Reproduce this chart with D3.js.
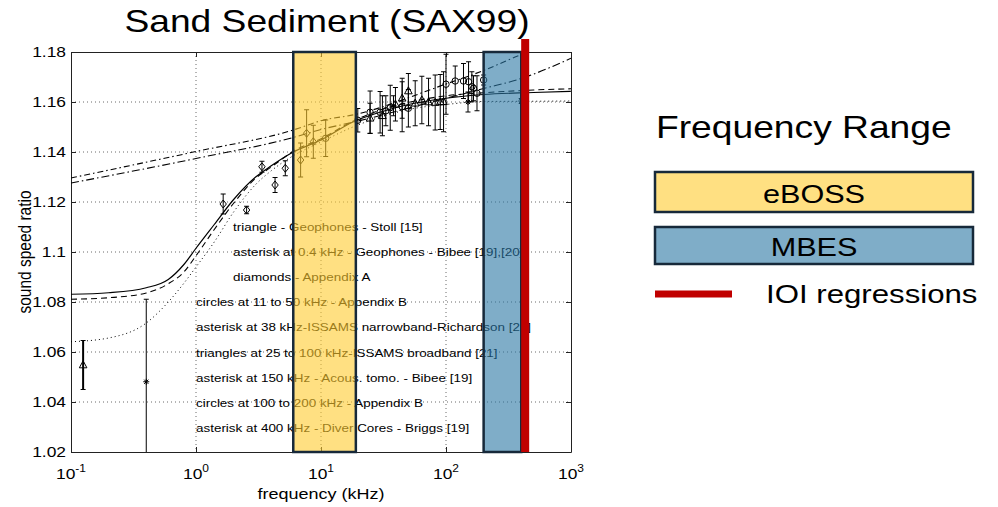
<!DOCTYPE html>
<html>
<head>
<meta charset="utf-8">
<script src="https://cdn.jsdelivr.net/npm/d3@7"></script>
<style>
  body { margin: 0; background: #fff; }
  svg { display: block; }
  text { font-family: "Liberation Sans", Arial, Helvetica, sans-serif; fill: #000; }
</style>
</head>
<body>
<svg id="chart" width="998" height="507"></svg>
<script>
// ---- axis ticks ----
const xTickValues = [0.1, 1, 10, 100, 1000];
const xTickExponents = ["-1", "0", "1", "2", "3"];
const yTickValues = [1.02, 1.04, 1.06, 1.08, 1.10, 1.12, 1.14, 1.16, 1.18];
const yTickLabels = ["1.02", "1.04", "1.06", "1.08", "1.1", "1.12", "1.14", "1.16", "1.18"];

// ---- model curves (frequency in kHz, sound speed ratio) ----
const modelFreq = [0.1, 0.2, 0.4, 0.6, 0.8, 1, 1.4, 2, 3, 4, 6, 10, 18, 30, 50, 100, 200, 500, 1000];
const solidModel  = [1.0831, 1.0837, 1.0857, 1.0890, 1.0950, 1.1015, 1.1110, 1.1210, 1.1300, 1.1345, 1.1400, 1.1448, 1.1520, 1.1560, 1.1590, 1.1615, 1.1630, 1.1638, 1.1643];
const dashedModel = [1.0811, 1.0817, 1.0836, 1.0873, 1.0920, 1.0985, 1.1090, 1.1195, 1.1295, 1.1340, 1.1403, 1.1453, 1.1523, 1.1568, 1.1598, 1.1625, 1.1637, 1.1648, 1.1653];
const dottedModel = [1.0641, 1.0656, 1.0716, 1.0800, 1.0875, 1.0940, 1.1040, 1.1160, 1.1270, 1.1325, 1.1385, 1.1440, 1.1500, 1.1540, 1.1570, 1.1590, 1.1602, 1.1603, 1.1604];

const lineFreq = [0.1, 1, 6, 10, 18.7, 100, 200, 400, 1000];
const upperDashDot = [1.1296, 1.1402, 1.1488, 1.1525, 1.1550, 1.1672, 1.1726, 1.1790, 1.1860];
const lowerDashDot = [1.1276, 1.1374, 1.1458, 1.1490, 1.1521, 1.1615, 1.1654, 1.1694, 1.1775];

// ---- measurements: [frequency kHz, ratio, error] ----
const geophoneTriangle = [[0.125, 1.0548, 0.0098]];
const diamonds = [
  [1.65, 1.1192, 0.0040], [2.54, 1.1168, 0.0015], [3.37, 1.1341, 0.0022],
  [4.29, 1.1268, 0.0030], [5.18, 1.1335, 0.0030], [6.87, 1.1368, 0.0068],
  [7.67, 1.1475, 0.0094], [8.68, 1.1441, 0.0066]
];
const circlesLow = [
  [10.9, 1.1455, 0.0073], [19.7, 1.1527, 0.0047], [24.7, 1.1559, 0.0085],
  [29.7, 1.1559, 0.0083], [33.0, 1.1565, 0.0060], [35.8, 1.1577, 0.0090],
  [44.6, 1.1581, 0.0100], [50.0, 1.1575, 0.0075]
];
const trianglesBroadband = [
  [24.7, 1.1535, 0.0060], [31.0, 1.1545, 0.0080], [39.4, 1.1591, 0.0067],
  [44.6, 1.1615, 0.0080], [50.0, 1.1644, 0.0070], [56.7, 1.1595, 0.0090],
  [64.1, 1.1608, 0.0095], [72.5, 1.1600, 0.0095], [81.9, 1.1598, 0.0110],
  [89.9, 1.1600, 0.0110], [95.6, 1.1601, 0.0120]
];
const circlesHigh = [
  [100, 1.1671, 0.0120], [118.5, 1.1684, 0.0060], [138, 1.1684, 0.0070],
  [151.5, 1.1681, 0.0080], [161, 1.1661, 0.0060], [166, 1.1655, 0.0050],
  [177, 1.1635, 0.0070], [200, 1.1688, 0.0020]
];
const asterisks = [
  [0.4, 1.0481, 0.0330], [38, 1.1585, 0.0040], [150, 1.1600, 0.0040], [400, 1.1604, 0.0010]
];

const sourceNotes = [
  "triangle - Geophones - Stoll [15]",
  "asterisk at 0.4 kHz - Geophones - Bibee [19],[20]",
  "diamonds - Appendix A",
  "circles at 11 to 50 kHz - Appendix B",
  "asterisk at 38 kHz-ISSAMS narrowband-Richardson [21]",
  "triangles at 25 to 100 kHz-ISSAMS broadband [21]",
  "asterisk at 150 kHz - Acous. tomo. - Bibee [19]",
  "circles at 100 to 200 kHz - Appendix B",
  "asterisk at 400 kHz - Diver Cores - Briggs [19]"
];

// ---- frequency ranges ----
const eBossRange = [6, 19];
const mbesRange = [200, 400];
const ioiFreq = 430;
const legendLabels = ["eBOSS", "MBES", "IOI regressions"];
const legendTitle = "Frequency Range";
const chartTitle = "Sand Sediment (SAX99)";

// ---- drawing ----
const SX = 1.2; // horizontal text stretch
const svg = d3.select("#chart");
const L = 71, R = 571, T = 52, B = 452;
const x = d3.scaleLog().domain([0.1, 1000]).range([L, R]);
const y = d3.scaleLinear().domain([1.02, 1.18]).range([B, T]);

function txt(g, px, py, str, size, anchor) {
  return g.append("text")
    .attr("transform", `translate(${px},${py}) scale(${SX},1)`)
    .attr("font-size", size)
    .attr("text-anchor", anchor || "start")
    .text(str);
}

svg.append("defs").append("clipPath").attr("id", "plotClip")
  .append("rect").attr("x", L).attr("y", T).attr("width", R - L).attr("height", B - T);

// title
txt(svg, 327, 32, chartTitle, 31, "middle");

// grid
const grid = svg.append("g").attr("stroke", "#444").attr("stroke-width", 0.8).attr("stroke-dasharray", "1,3");
xTickValues.slice(1, -1).forEach(v => {
  grid.append("line").attr("x1", x(v)).attr("x2", x(v)).attr("y1", T).attr("y2", B);
});
yTickValues.slice(1, -1).forEach(v => {
  grid.append("line").attr("x1", L).attr("x2", R).attr("y1", y(v)).attr("y2", y(v));
});

// axes with inward ticks (left/bottom via d3 axes, right/top mirrored)
const yAxis = d3.axisLeft(y).tickValues(yTickValues).tickSizeInner(-5).tickSizeOuter(0).tickFormat("");
const xAxis = d3.axisBottom(x).tickValues(xTickValues).tickSizeInner(-5).tickSizeOuter(0).tickFormat("");
const yAxisR = d3.axisRight(y).tickValues(yTickValues).tickSizeInner(-5).tickSizeOuter(0).tickFormat("");
const xAxisT = d3.axisTop(x).tickValues(xTickValues).tickSizeInner(-5).tickSizeOuter(0).tickFormat("");
[[yAxis, `translate(${L},0)`], [xAxis, `translate(0,${B})`], [yAxisR, `translate(${R},0)`], [xAxisT, `translate(0,${T})`]]
  .forEach(([ax, tr]) => {
    const g = svg.append("g").attr("transform", tr).call(ax);
    g.selectAll("path,line").attr("stroke", "#222").attr("stroke-width", 1);
  });

// tick labels
const tickG = svg.append("g");
yTickValues.forEach((v, i) => txt(tickG, 66, y(v) + 5, yTickLabels[i], 14.5, "end"));
xTickValues.forEach((v, i) => {
  const t = tickG.append("text")
    .attr("transform", `translate(${x(v)},479) scale(${SX},1)`)
    .attr("font-size", 14.5).attr("text-anchor", "middle");
  t.append("tspan").text("10");
  t.append("tspan").attr("dy", -7).attr("font-size", 10).text(xTickExponents[i]);
});

// axis titles
txt(svg, 321, 499, "frequency (kHz)", 15, "middle");
svg.append("text")
  .attr("transform", `translate(31,${(T + B) / 2}) scale(${SX},1) rotate(-90)`)
  .attr("font-size", 15.5).attr("text-anchor", "middle")
  .text("sound speed ratio");

// model curves
const plotG = svg.append("g").attr("clip-path", "url(#plotClip)");
const line = d3.line().x(d => x(d[0])).y(d => y(d[1])).curve(d3.curveMonotoneX);
function drawCurve(freqs, vals, dash, width) {
  plotG.append("path")
    .datum(freqs.map((f, i) => [f, vals[i]]))
    .attr("d", line).attr("fill", "none").attr("stroke", "#000")
    .attr("stroke-width", width).attr("stroke-dasharray", dash);
}
drawCurve(modelFreq, dottedModel, "1,3", 1);
drawCurve(modelFreq, dashedModel, "6,4", 1.1);
drawCurve(modelFreq, solidModel, null, 1.2);
drawCurve(lineFreq, upperDashDot, "6,3,1.5,3", 1.1);
drawCurve(lineFreq, lowerDashDot, "8,3,1.5,3", 1.1);

// error bars and markers
function errorBars(data, width) {
  data.forEach(([f, v, e]) => {
    const cx = x(f);
    plotG.append("line").attr("x1", cx).attr("x2", cx).attr("y1", y(v - e)).attr("y2", y(v + e))
      .attr("stroke", "#000").attr("stroke-width", width);
    [v - e, v + e].forEach(c => plotG.append("line")
      .attr("x1", cx - 2.5).attr("x2", cx + 2.5).attr("y1", y(c)).attr("y2", y(c))
      .attr("stroke", "#000").attr("stroke-width", 1));
  });
}
function markers(data, shape) {
  data.forEach(([f, v]) => {
    const cx = x(f), cy = y(v);
    if (shape === "circle") {
      plotG.append("circle").attr("cx", cx).attr("cy", cy).attr("r", 3.2)
        .attr("fill", "none").attr("stroke", "#000").attr("stroke-width", 1);
    } else if (shape === "diamond") {
      plotG.append("path").attr("d", `M${cx},${cy - 4}L${cx + 3.2},${cy}L${cx},${cy + 4}L${cx - 3.2},${cy}Z`)
        .attr("fill", "none").attr("stroke", "#000").attr("stroke-width", 1);
    } else if (shape === "triangle") {
      plotG.append("path").attr("d", `M${cx},${cy - 4.2}L${cx + 3.8},${cy + 2.8}L${cx - 3.8},${cy + 2.8}Z`)
        .attr("fill", "none").attr("stroke", "#000").attr("stroke-width", 1);
    } else {
      const s = 3;
      plotG.append("path")
        .attr("d", `M${cx - s},${cy}H${cx + s}M${cx},${cy - s}V${cy + s}M${cx - s * 0.7},${cy - s * 0.7}L${cx + s * 0.7},${cy + s * 0.7}M${cx - s * 0.7},${cy + s * 0.7}L${cx + s * 0.7},${cy - s * 0.7}`)
        .attr("stroke", "#000").attr("stroke-width", 1);
    }
  });
}
errorBars(geophoneTriangle, 2);
errorBars(diamonds, 1);
errorBars(circlesLow, 1);
errorBars(trianglesBroadband, 1);
errorBars(circlesHigh, 1);
errorBars(asterisks, 1);
markers(geophoneTriangle, "triangle");
markers(diamonds, "diamond");
markers(circlesLow, "circle");
markers(trianglesBroadband, "triangle");
markers(circlesHigh, "circle");
markers(asterisks, "asterisk");

// source notes
const notesG = svg.append("g");
sourceNotes.forEach((s, i) => txt(notesG, i < 3 ? 233 : 196, 231 + i * 25.1, s, 11.2, "start"));

// frequency range bands
const yellowFill = "rgb(255,203,47)", blueFill = "rgb(42,118,163)", bandEdge = "#17293a";
function band(range, fill) {
  svg.append("rect")
    .attr("x", x(range[0])).attr("y", T)
    .attr("width", x(range[1]) - x(range[0])).attr("height", B - T)
    .attr("fill", fill).attr("fill-opacity", 0.6)
    .attr("stroke", bandEdge).attr("stroke-width", 2.5);
}
band(eBossRange, yellowFill);
band(mbesRange, blueFill);

// IOI regression frequency
svg.append("line").attr("x1", x(ioiFreq)).attr("x2", x(ioiFreq)).attr("y1", 39).attr("y2", B)
  .attr("stroke", "#C00000").attr("stroke-width", 8);

// legend
const lg = svg.append("g");
txt(lg, 656, 138, legendTitle, 31, "start");
[[yellowFill, 172, 212, 203], [blueFill, 227, 264, 256]].forEach(([fill, y0, y1, base], i) => {
  lg.append("rect").attr("x", 655).attr("y", y0).attr("width", 318).attr("height", y1 - y0)
    .attr("fill", fill).attr("fill-opacity", 0.6).attr("stroke", bandEdge).attr("stroke-width", 2.5);
  txt(lg, 814, base, legendLabels[i], 25.5, "middle");
});
lg.append("line").attr("x1", 655).attr("x2", 732).attr("y1", 294).attr("y2", 294)
  .attr("stroke", "#C00000").attr("stroke-width", 7);
txt(lg, 766, 303, legendLabels[2], 26, "start");
</script>
</body>
</html>
